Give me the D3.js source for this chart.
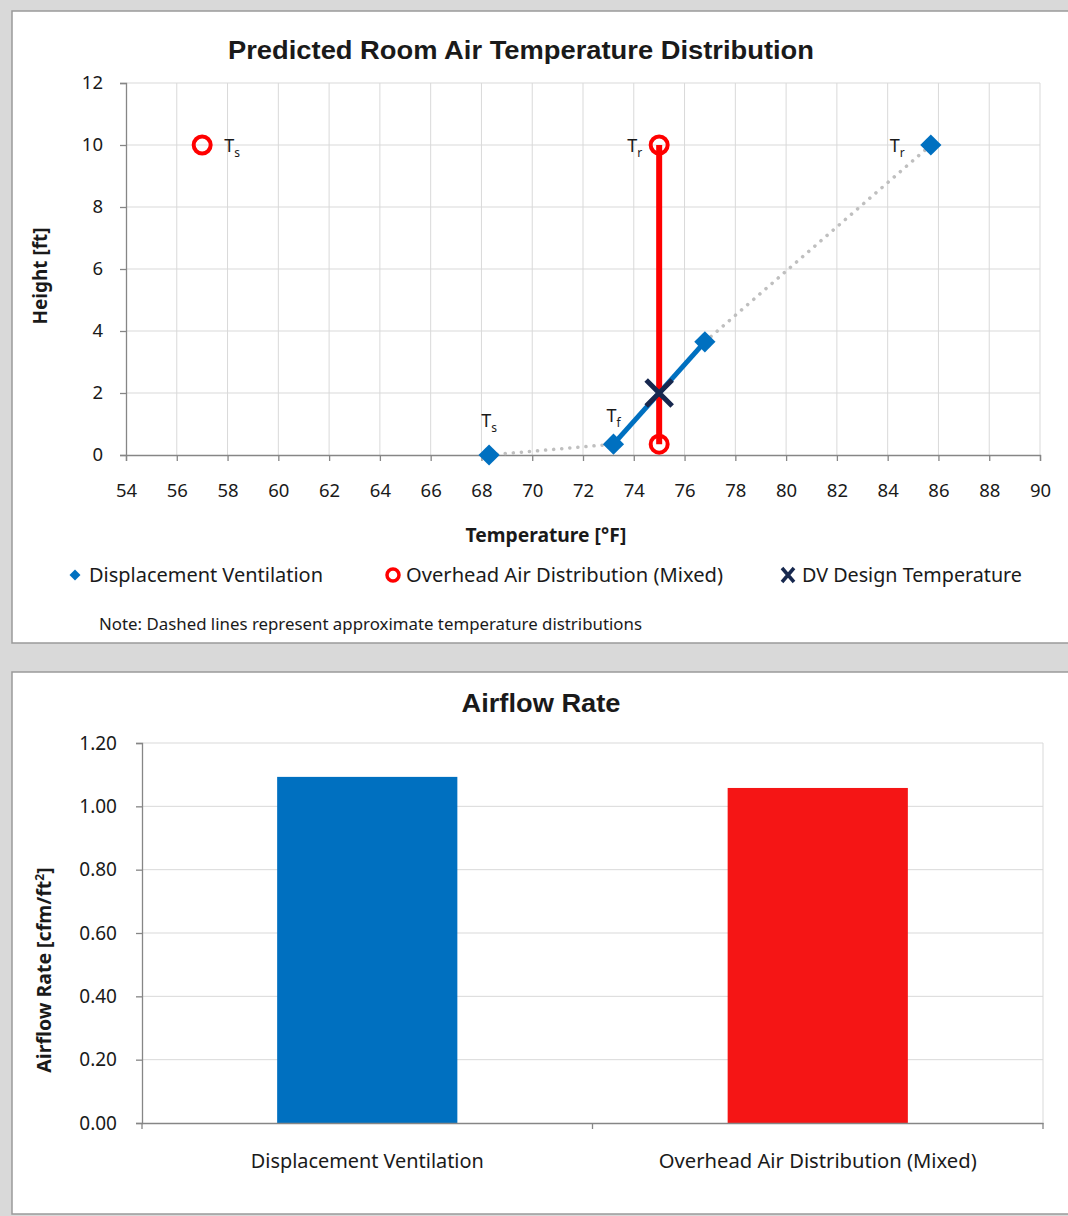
<!DOCTYPE html>
<html>
<head>
<meta charset="utf-8">
<script src="https://cdn.jsdelivr.net/npm/d3@7"></script>
<style>
  html, body { margin: 0; padding: 0; background: #d9d9d9; }
  svg { display: block; }
  text { font-family: "Noto Sans", "Open Sans", sans-serif; fill: #1a1a1a; }
</style>
</head>
<body>
<svg id="chart" width="1068" height="1216"></svg>
<script>
// ---------------- DATA ----------------
const tempTicks = [54, 56, 58, 60, 62, 64, 66, 68, 70, 72, 74, 76, 78, 80, 82, 84, 86, 88, 90];
const heightTicks = [0, 2, 4, 6, 8, 10, 12];

// Displacement ventilation profile
const dvTemp = [68.3, 73.2, 76.8, 85.7];
const dvHeight = [0, 0.35, 3.65, 10];
// Overhead air distribution (mixed)
const ohTemp = [57.0, 75.0, 75.0];
const ohHeight = [10, 10, 0.35];
// DV design temperature
const designTemp = [75.0];
const designHeight = [2.0];

// point labels: main letter, subscript, anchored at data point
const labelMain = ["T", "T", "T", "T", "T"];
const labelSub = ["s", "r", "r", "s", "f"];
const labelTemp = [57.0, 75.0, 85.7, 68.3, 73.2];
const labelHeight = [10, 10, 10, 0, 0.35];

const legendNames = ["Displacement Ventilation", "Overhead Air Distribution (Mixed)", "DV Design Temperature"];

// bar chart
const barCategories = ["Displacement Ventilation", "Overhead Air Distribution (Mixed)"];
const barValues = [1.093, 1.058];
const rateTicks = [0, 0.2, 0.4, 0.6, 0.8, 1.0, 1.2];

// ---------------- STYLE ----------------
const BLUE = "#0070c0", RED = "#ff0000", BAR_RED = "#f51515", NAVY = "#17284f";
const GRID = "#d9d9d9", AXIS = "#868686";

const svg = d3.select("#chart");

// panels
svg.append("rect").attr("x", 0).attr("y", 0).attr("width", 1068).attr("height", 1216).attr("fill", "#d9d9d9");
svg.append("rect").attr("x", 12).attr("y", 11).attr("width", 1070).attr("height", 632)
  .attr("fill", "#fff").attr("stroke", "#9a9a9a").attr("stroke-width", 1.5);
svg.append("rect").attr("x", 12).attr("y", 672).attr("width", 1070).attr("height", 542)
  .attr("fill", "#fff").attr("stroke", "#9a9a9a").attr("stroke-width", 1.5);

function fit(sel, len) {
  sel.attr("textLength", len).attr("lengthAdjust", "spacingAndGlyphs");
}

// ============ TOP CHART ============
const x = d3.scaleLinear().domain([54, 90]).range([126, 1040]);
const y = d3.scaleLinear().domain([0, 12]).range([455, 83]);

const gTop = svg.append("g");

gTop.append("text").attr("x", 521).attr("y", 59).attr("text-anchor", "middle")
  .style("font-family", "'Liberation Sans', Arial, sans-serif").style("font-weight", "bold").style("font-size", "26px")
  .call(fit, 586)
  .text("Predicted Room Air Temperature Distribution");

// grid
gTop.append("g").selectAll("line").data(tempTicks.slice(1)).join("line")
  .attr("x1", d => x(d)).attr("x2", d => x(d)).attr("y1", y(12)).attr("y2", y(0))
  .attr("stroke", GRID).attr("stroke-width", 1);
gTop.append("g").selectAll("line").data(heightTicks.slice(1)).join("line")
  .attr("x1", x(54)).attr("x2", x(90)).attr("y1", d => y(d)).attr("y2", d => y(d))
  .attr("stroke", GRID).attr("stroke-width", 1);

// axes
const xAxis = d3.axisBottom(x).tickValues(tempTicks).tickSize(6).tickPadding(23).tickFormat(d3.format("d"));
const gx = gTop.append("g").attr("transform", `translate(0,${y(0)})`).call(xAxis);
const yAxis = d3.axisLeft(y).tickValues(heightTicks).tickSize(6).tickPadding(17).tickFormat(d3.format("d"));
const gy = gTop.append("g").attr("transform", `translate(${x(54)},0)`).call(yAxis);
[gx, gy].forEach(g => {
  g.select(".domain").attr("stroke", AXIS).attr("stroke-width", 1.3);
  g.selectAll(".tick line").attr("stroke", AXIS).attr("stroke-width", 1.3);
  g.selectAll(".tick text").style("font-family", "'Noto Sans', sans-serif").style("font-size", "18.5px").attr("fill", "#1a1a1a");
});

gTop.append("text").attr("x", 546).attr("y", 542).attr("text-anchor", "middle")
  .style("font-weight", "bold").style("font-size", "19px").call(fit, 161).text("Temperature [°F]");
gTop.append("text").attr("transform", "translate(47,276) rotate(-90)").attr("text-anchor", "middle")
  .style("font-weight", "bold").style("font-size", "19.5px").call(fit, 97).text("Height [ft]");

// dotted approximate segments
const line = d3.line().x(d => x(d[0])).y(d => y(d[1]));
const dvPts = dvTemp.map((t, i) => [t, dvHeight[i]]);
gTop.append("path").attr("d", line([dvPts[0], dvPts[1]])).attr("fill", "none")
  .attr("stroke", "#bfbfbf").attr("stroke-width", 3.5).attr("stroke-dasharray", "0.1,8").attr("stroke-linecap", "round");
gTop.append("path").attr("d", line([dvPts[2], dvPts[3]])).attr("fill", "none")
  .attr("stroke", "#bfbfbf").attr("stroke-width", 3.5).attr("stroke-dasharray", "0.1,8").attr("stroke-linecap", "round");
// solid DV segment
gTop.append("path").attr("d", line([dvPts[1], dvPts[2]])).attr("fill", "none")
  .attr("stroke", BLUE).attr("stroke-width", 5);

// overhead red vertical line
const ohPts = ohTemp.map((t, i) => [t, ohHeight[i]]);
gTop.append("path").attr("d", line([ohPts[1], ohPts[2]])).attr("fill", "none")
  .attr("stroke", RED).attr("stroke-width", 6);

// DV diamonds
gTop.append("g").selectAll("path").data(dvPts).join("path")
  .attr("d", d3.symbol().type(d3.symbolSquare).size(225))
  .attr("transform", d => `translate(${x(d[0])},${y(d[1])}) rotate(45)`)
  .attr("fill", BLUE);

// OH circles
gTop.append("g").selectAll("circle").data(ohPts).join("circle")
  .attr("cx", d => x(d[0])).attr("cy", d => y(d[1])).attr("r", 8.5)
  .attr("fill", "none").attr("stroke", RED).attr("stroke-width", 4);

// design X
const desPts = designTemp.map((t, i) => [t, designHeight[i]]);
gTop.append("g").selectAll("path").data(desPts).join("path")
  .attr("transform", d => `translate(${x(d[0])},${y(d[1])})`)
  .attr("d", "M-13,-13L13,13M-13,13L13,-13")
  .attr("stroke", NAVY).attr("stroke-width", 5).attr("fill", "none");

// point labels
const labOffsets = [[22, 7, "start"], [-17, 7, "end"], [-26, 7, "end"], [0, -28, "middle"], [0, -22, "middle"]];
labelMain.forEach((m, i) => {
  const o = labOffsets[i];
  const t = gTop.append("text").attr("x", x(labelTemp[i]) + o[0]).attr("y", y(labelHeight[i]) + o[1])
    .attr("text-anchor", o[2]).style("font-size", "18px");
  t.append("tspan").text(m);
  t.append("tspan").attr("dy", 5).style("font-size", "12px").text(labelSub[i]);
});

// legend
const leg = gTop.append("g");
leg.append("path").attr("d", d3.symbol().type(d3.symbolSquare).size(60))
  .attr("transform", "translate(75,575) rotate(45)").attr("fill", BLUE);
leg.append("text").attr("x", 89).attr("y", 582).style("font-size", "19px").call(fit, 234).text(legendNames[0]);
leg.append("circle").attr("cx", 393).attr("cy", 575).attr("r", 6).attr("fill", "none").attr("stroke", RED).attr("stroke-width", 3.5);
leg.append("text").attr("x", 406).attr("y", 582).style("font-size", "19px").call(fit, 317).text(legendNames[1]);
leg.append("path").attr("d", "M-6,-7L6,7M-6,7L6,-7").attr("transform", "translate(788,575)")
  .attr("stroke", NAVY).attr("stroke-width", 3.5);
leg.append("text").attr("x", 802).attr("y", 582).style("font-size", "19px").call(fit, 220).text(legendNames[2]);

gTop.append("text").attr("x", 99).attr("y", 630).style("font-size", "16px").call(fit, 543)
  .text("Note: Dashed lines represent approximate temperature distributions");

// ============ BOTTOM CHART ============
const bx = d3.scaleBand().domain(barCategories).range([142, 1043]).paddingInner(0.6).paddingOuter(0.3);
const by = d3.scaleLinear().domain([0, 1.2]).range([1123, 743]);
const bot = svg.append("g");

bot.append("text").attr("x", 541).attr("y", 712).attr("text-anchor", "middle")
  .style("font-family", "'Liberation Sans', Arial, sans-serif").style("font-weight", "bold").style("font-size", "26px")
  .call(fit, 159)
  .text("Airflow Rate");

// grid
bot.append("g").selectAll("line").data(rateTicks.slice(1)).join("line")
  .attr("x1", 142).attr("x2", 1043).attr("y1", d => by(d)).attr("y2", d => by(d))
  .attr("stroke", GRID).attr("stroke-width", 1);
bot.append("line").attr("x1", 1043).attr("x2", 1043).attr("y1", by(1.2)).attr("y2", by(0))
  .attr("stroke", GRID).attr("stroke-width", 1);

// bars
bot.append("g").selectAll("rect").data(barValues).join("rect")
  .attr("x", (d, i) => bx(barCategories[i])).attr("width", bx.bandwidth())
  .attr("y", d => by(d)).attr("height", d => by(0) - by(d))
  .attr("fill", (d, i) => i === 0 ? BLUE : BAR_RED);

const byAxis = d3.axisLeft(by).tickValues(rateTicks).tickSize(6).tickPadding(19).tickFormat(d3.format(".2f"));
const gby = bot.append("g").attr("transform", "translate(142,0)").call(byAxis);
const bxAxis = d3.axisBottom(bx).tickSize(0).tickPadding(31);
const gbx = bot.append("g").attr("transform", `translate(0,${by(0)})`).call(bxAxis);
// category boundary ticks
const midB = (bx(barCategories[0]) + bx(barCategories[1]) + bx.bandwidth()) / 2;
bot.append("g").selectAll("line").data([142, midB, 1043]).join("line")
  .attr("x1", d => d).attr("x2", d => d)
  .attr("y1", by(0)).attr("y2", by(0) + 6).attr("stroke", AXIS).attr("stroke-width", 1.3);
[gby, gbx].forEach(g => {
  g.select(".domain").attr("stroke", AXIS).attr("stroke-width", 1.3);
  g.selectAll(".tick line").attr("stroke", AXIS).attr("stroke-width", 1.3);
  g.selectAll(".tick text").style("font-family", "'Noto Sans', sans-serif").style("font-size", "19px").attr("fill", "#1a1a1a");
});
gbx.selectAll(".tick text").style("font-size", "19.5px").attr("textLength", (d, i) => i === 0 ? 233 : 318)
  .attr("lengthAdjust", "spacingAndGlyphs");

bot.append("text").attr("transform", "translate(51,970) rotate(-90)").attr("text-anchor", "middle")
  .style("font-weight", "bold").style("font-size", "19.5px")
  .call(t => {
    t.append("tspan").text("Airflow Rate [cfm/ft");
    t.append("tspan").attr("dy", -7).style("font-size", "12px").text("2");
    t.append("tspan").attr("dy", 7).text("]");
  });
</script>
</body>
</html>
